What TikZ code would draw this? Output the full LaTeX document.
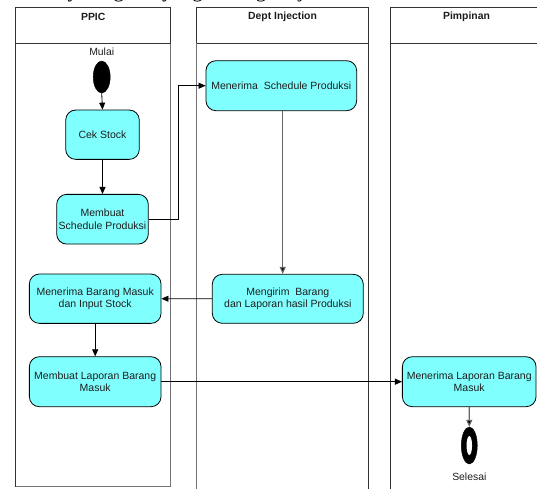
\documentclass[tikz,border=0pt]{standalone}
\usepackage{fontspec}
\setmainfont{Liberation Sans}
\newfontfamily\serifcut{Liberation Serif}
\usetikzlibrary{arrows.meta,shapes.geometric}
\definecolor{actfill}{RGB}{128,255,255}
\definecolor{txt}{RGB}{30,30,30}
\begin{document}
\begin{tikzpicture}[x=1pt,y=-1pt,
  lane/.style={draw=black!80, line width=0.8pt},
  lanegray/.style={draw=black!55, line width=0.9pt},
  act/.style={draw=black, line width=0.8pt, fill=actfill, rounded corners=10pt,
    align=center, inner sep=0pt, text=txt, font=\fontsize{10.5}{12.4}\selectfont},
  hdr/.style={font=\fontsize{10.4}{12}\selectfont\bfseries, text=txt, inner sep=0pt},
  lbl/.style={font=\fontsize{10.4}{12}\selectfont, text=txt, inner sep=0pt},
  flow/.style={draw=black, line width=0.8pt, -{Triangle[length=7pt,width=6pt]}},
  flowgray/.style={draw=black!60, line width=1.1pt, -{Triangle[length=7pt,width=6pt,fill=black]}}
]
\useasboundingbox (0,0) rectangle (537,488);
\clip (0,0) rectangle (537,488);
\fill[white] (0,0) rectangle (537,488);

% cut-off line of text above the diagram
\node[anchor=base west, inner sep=0pt, font=\serifcut\fontsize{21}{24}\selectfont] (cut) at (9,-2.5) {Activity Diagram yang sedang berjalan};

% swimlanes
\draw[lane] (15.7,7.5) rectangle (170.7,486.7);
\draw[lanegray] (170.7,43) -- (170.7,486.7) -- (15.7,486.7);
\draw[lane] (15.7,43) -- (170.7,43);
\draw[lane] (196.7,495) -- (196.7,7.5) -- (368.3,7.5) -- (368.3,495);
\draw[lanegray] (196.7,43) -- (196.7,495);
\draw[lane] (196.7,43) -- (368.3,43);
\draw[lane] (390,495) -- (390,7.5) -- (545,7.5);
\draw[lane] (390,43) -- (545,43);

\node[hdr] (h1) at (93.2,17) {PPIC};
\node[hdr] (h2) at (282.5,17) {Dept Injection};
\node[hdr] (h3) at (466.5,17) {Pimpinan};

% start / end
\node[lbl] (mulai) at (101.7,52) {Mulai};
\node[draw=black, fill=black, ellipse, minimum width=17pt, minimum height=32pt, inner sep=0pt] (start) at (101.7,77) {};
\node[draw=black, fill=black, ellipse, minimum width=16pt, minimum height=37pt, inner sep=0pt] (end) at (469.3,445.5) {};
\node[fill=white, ellipse, minimum width=5.5pt, minimum height=19pt, inner sep=0pt] (endin) at (469.3,445.5) {};
\node[lbl] (selesai) at (469.3,476.7) {Selesai};

% activities
\node[act, minimum width=73.6pt, minimum height=49.3pt] (cek) at (102.5,134.7) {Cek Stock};
\node[act, minimum width=91.6pt, minimum height=49.7pt] (msched) at (102.5,219.2) {Membuat\\Schedule Produksi};
\node[act, minimum width=150.7pt, minimum height=50pt] (terima) at (281.3,85.7) {Menerima\ \ Schedule Produksi};
\node[act, minimum width=151pt, minimum height=49pt] (kirim) at (287.8,298.8) {Mengirim\ \ Barang\\dan Laporan hasil Produksi};
\node[act, minimum width=131.7pt, minimum height=49.3pt] (tbarang) at (95.2,298.7) {Menerima Barang Masuk\\dan Input Stock};
\node[act, minimum width=131.7pt, minimum height=50pt] (lapor) at (95.2,381.7) {Membuat Laporan Barang\\Masuk};
\node[act, minimum width=133.7pt, minimum height=50pt] (tlapor) at (469.2,381.7) {Menerima Laporan Barang\\Masuk};

% flows
\draw[flow] (start.south) -- (cek.north);
\draw[flow] (cek.south) -- (msched.north);
\coordinate (c1) at (178.3,219.2);
\coordinate (c2) at (178.3,85.7);
\draw[flow] (msched.east) -- (c1) -- (c2) -- (terima.west);
\draw[flowgray] ([xshift=1.4pt]terima.south) -- ([xshift=1.4pt]terima.south |- kirim.north);
\draw[flow] (kirim.west) -- (tbarang.east);
\draw[flow] (tbarang.south) -- (tbarang.south |- lapor.north);
\draw[flow] (lapor.east) -- (tlapor.west);
\draw[flowgray] (tlapor.south) -- (end.north);
\end{tikzpicture}
\end{document}
